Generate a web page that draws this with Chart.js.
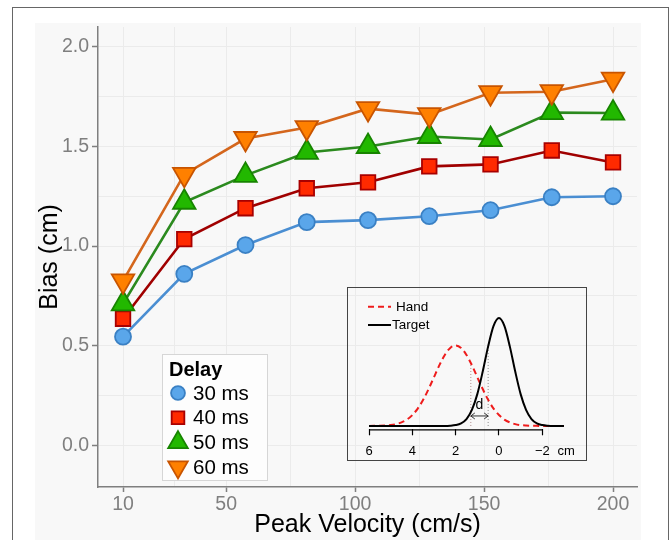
<!DOCTYPE html>
<html><head><meta charset="utf-8">
<script src="https://cdn.jsdelivr.net/npm/chart.js@4.4.1/dist/chart.umd.min.js"></script>
<style>
html,body{margin:0;padding:0;background:#fff;}
#wrap{position:relative;width:671px;height:540px;overflow:hidden;}
#main{position:absolute;left:0;top:0;}
#frame{position:absolute;left:12px;top:7px;width:657px;height:560px;border:1.5px solid #666;box-sizing:border-box;pointer-events:none;}
#insetBox{position:absolute;left:347px;top:287px;width:240px;height:174px;border:1px solid #444;box-sizing:border-box;}
#inset{position:absolute;left:0;top:0;}
</style></head>
<body>
<div id="wrap">
<canvas id="main" width="671" height="540"></canvas>
<div id="frame"></div>
<div id="insetBox"><canvas id="inset" width="238" height="172"></canvas></div>
</div>
<script>
// ---------- main chart data ----------
const velocities = [10, 33.75, 57.5, 81.25, 105, 128.75, 152.5, 176.25, 200];
const bias30 = [0.545, 0.86, 1.005, 1.12, 1.13, 1.15, 1.18, 1.245, 1.25];
const bias40 = [0.635, 1.035, 1.19, 1.29, 1.32, 1.40, 1.41, 1.48, 1.42];
const bias50 = [0.71, 1.22, 1.355, 1.47, 1.50, 1.55, 1.535, 1.67, 1.668];
const bias60 = [0.825, 1.36, 1.54, 1.595, 1.69, 1.66, 1.77, 1.775, 1.838];
const seriesLabels = ['30 ms', '40 ms', '50 ms', '60 ms'];
const legendTitle = 'Delay';
const xMajorTicks = [10, 50, 100, 150, 200];
const xMinorTicks = [30, 75, 125, 175];
const yMajorTicks = [0, 0.5, 1, 1.5, 2];
const yMinorTicks = [0.25, 0.75, 1.25, 1.75];
const yTickLabels = ['0.0', '0.5', '1.0', '1.5', '2.0'];
const xTitle = 'Peak Velocity (cm/s)';
const yTitle = 'Bias (cm)';

// ---------- inset data ----------
const insetX = [6,5.75,5.5,5.25,5,4.75,4.5,4.25,4,3.75,3.5,3.25,3,2.75,2.5,2.25,2,1.75,1.5,1.25,1,0.75,0.5,0.25,0,-0.25,-0.5,-0.75,-1,-1.25,-1.5,-1.75,-2,-2.25,-2.5,-2.75,-3];
const handY = [0,0.001,0.002,0.004,0.008,0.017,0.033,0.059,0.101,0.161,0.242,0.342,0.452,0.563,0.658,0.723,0.746,0.723,0.658,0.563,0.452,0.342,0.242,0.161,0.101,0.059,0.033,0.017,0.008,0.004,0.002,0.001,0,0,0,0,0];
const targetY = [0,0,0,0,0,0,0,0,0,0,0,0,0,0,0,0.002,0.008,0.024,0.064,0.149,0.295,0.504,0.737,0.927,1,0.927,0.737,0.504,0.295,0.149,0.064,0.024,0.008,0.002,0,0,0];
const insetLabels = ['Hand', 'Target'];
const insetTicks = [6, 4, 2, 0, -2];
const insetTickLabels = ['6', '4', '2', '0', '\u22122'];
const insetUnitTick = -3.1;
const insetUnitLabel = 'cm';
const dottedX = [1.3, 0.5];
const dottedTop = [0.584, 0.737];
const arrowY = 0.0926;
const dLabel = 'd';
const dLabelPos = [0.9, 0.19];

const FONT = '"Liberation Sans", Arial, Helvetica, sans-serif';
Chart.defaults.font.family = FONT;

const styles = [
  {fill:'#5aa6ea', border:'#3a80c4', line:'#4a8ed2', shape:'circle', r:8, rot:0},
  {fill:'#ff2a00', border:'#a80000', line:'#a00000', shape:'rect', r:10.3, rot:0},
  {fill:'#22b800', border:'#178400', line:'#2b8a1e', shape:'triangle', r:13, rot:0},
  {fill:'#ff8000', border:'#c85400', line:'#d4661c', shape:'triangle', r:13, rot:180}
];
const seriesValues = [bias30, bias40, bias50, bias60];

const lineSets = seriesValues.map((vals, i) => ({
  type:'line', label:'_line' + i,
  data: velocities.map((v, j) => ({x:v, y:vals[j]})),
  borderColor: styles[i].line, borderWidth: 2.6, pointRadius: 0, fill:false,
  order: 14 - i
}));
const pointSets = seriesValues.map((vals, i) => ({
  type:'line', label: seriesLabels[i], showLine:false,
  data: velocities.map((v, j) => ({x:v, y:vals[j]})),
  backgroundColor: styles[i].fill, borderColor: styles[i].border, borderWidth: 1.8,
  pointStyle: styles[i].shape, pointRadius: styles[i].r, pointRotation: styles[i].rot,
  order: 4 - i
}));

function drawMarker(ctx, st, x, y, scale) {
  ctx.save();
  ctx.fillStyle = st.fill; ctx.strokeStyle = st.border; ctx.lineWidth = 1.8;
  const r = st.r * scale;
  if (Chart.helpers && Chart.helpers.drawPoint) {
    Chart.helpers.drawPoint(ctx, {pointStyle: st.shape, rotation: st.rot, radius: r, borderWidth: 1.8}, x, y);
  } else {
    ctx.beginPath();
    if (st.shape === 'circle') ctx.arc(x, y, r, 0, Math.PI * 2);
    else if (st.shape === 'rect') { const s = r * Math.SQRT1_2; ctx.rect(x - s, y - s, 2 * s, 2 * s); }
    else { const d = st.rot ? -1 : 1; const w = r * Math.sqrt(3) / 2;
      ctx.moveTo(x, y - d * r); ctx.lineTo(x + w, y + d * r / 2); ctx.lineTo(x - w, y + d * r / 2); ctx.closePath(); }
    ctx.fill(); ctx.stroke();
  }
  ctx.restore();
}

const bgPlugin = {
  id:'bg',
  beforeDraw(chart) {
    const ctx = chart.ctx; ctx.save();
    ctx.fillStyle = '#f8f8f8'; ctx.fillRect(35, 23, 606, 517);
    ctx.restore();
  }
};
const legendPlugin = {
  id:'mainLegend',
  afterDraw(chart) {
    const ctx = chart.ctx; ctx.save();
    ctx.fillStyle = '#fdfdfd'; ctx.strokeStyle = '#d6d6d6'; ctx.lineWidth = 1;
    ctx.fillRect(162.5, 354.5, 105, 126); ctx.strokeRect(162.5, 354.5, 105, 126);
    ctx.fillStyle = '#000'; ctx.textAlign = 'left'; ctx.textBaseline = 'alphabetic';
    ctx.font = 'bold 20px ' + FONT;
    ctx.fillText(legendTitle, 169, 376);
    ctx.font = '20.5px ' + FONT; ctx.textBaseline = 'middle';
    pointSets.forEach((ds, i) => {
      const y = 393 + i * 24.7;
      drawMarker(ctx, styles[i], 178, y, 0.87);
      ctx.fillStyle = '#000';
      ctx.fillText(ds.label, 193, y + 1);
    });
    ctx.restore();
  }
};

new Chart(document.getElementById('main'), {
  type:'line',
  data:{datasets:[...lineSets, ...pointSets]},
  options:{
    responsive:false, animation:false, devicePixelRatio:1,
    layout:{padding:{left:0, right:34, top:27, bottom:0}},
    plugins:{legend:{display:false}, tooltip:{enabled:false}},
    elements:{line:{tension:0}},
    scales:{
      x:{
        type:'linear', min:0.3, max:209.3,
        afterBuildTicks: s => { s.ticks = [...xMajorTicks, ...xMinorTicks].sort((a,b)=>a-b).map(v => ({value:v})); },
        afterFit: s => { s.height = 53; },
        ticks:{autoSkip:false, maxRotation:0, color:'#7f7f7f', font:{size:19.5}, padding:1,
          callback: v => xMajorTicks.includes(v) ? String(v) : ''},
        grid:{color:'#ebebeb', lineWidth:1, tickLength:5,
          tickColor: c => (c.tick && xMajorTicks.includes(c.tick.value)) ? '#7f7f7f' : 'rgba(0,0,0,0)', tickWidth:1.5},
        border:{color:'#7f7f7f', width:1.5},
        title:{display:true, text:xTitle, color:'#000', font:{size:25, lineHeight:1.2}, padding:{top:0, bottom:0}}
      },
      y:{
        type:'linear', min:-0.21, max:2.1,
        afterBuildTicks: s => { s.ticks = [...yMajorTicks, ...yMinorTicks].sort((a,b)=>a-b).map(v => ({value:v})); },
        afterFit: s => { s.width = 98; },
        ticks:{autoSkip:false, color:'#7f7f7f', font:{size:19.5}, padding:3,
          callback: v => { const k = yMajorTicks.indexOf(v); return k >= 0 ? yTickLabels[k] : ''; }},
        grid:{color:'#ebebeb', lineWidth:1, tickLength:6,
          tickColor: c => (c.tick && yMajorTicks.includes(c.tick.value)) ? '#7f7f7f' : 'rgba(0,0,0,0)', tickWidth:1.5},
        border:{color:'#7f7f7f', width:1.5},
        title:{display:true, text:yTitle, color:'#000', font:{size:25, lineHeight:1.2}, padding:{top:35, bottom:0}}
      }
    }
  },
  plugins:[bgPlugin, legendPlugin]
});

// ---------- inset ----------
const insetPlugin = {
  id:'insetExtras',
  afterDraw(chart) {
    const ctx = chart.ctx, xs = chart.scales.x, ys = chart.scales.y, ca = chart.chartArea;
    ctx.save();
    // axis line from first to last numeric tick
    ctx.strokeStyle = '#000'; ctx.lineWidth = 1.2;
    ctx.beginPath();
    ctx.moveTo(xs.getPixelForValue(insetTicks[0]), ca.bottom + 0.5);
    ctx.lineTo(xs.getPixelForValue(insetTicks[insetTicks.length - 1]), ca.bottom + 0.5);
    ctx.stroke();
    // arrow heads
    const ay = ys.getPixelForValue(arrowY);
    const a1 = xs.getPixelForValue(dottedX[0]), a2 = xs.getPixelForValue(dottedX[1]);
    ctx.strokeStyle = '#333'; ctx.lineWidth = 1;
    ctx.beginPath();
    ctx.moveTo(a1 + 4, ay - 3); ctx.lineTo(a1, ay); ctx.lineTo(a1 + 4, ay + 3);
    ctx.moveTo(a2 - 4, ay - 3); ctx.lineTo(a2, ay); ctx.lineTo(a2 - 4, ay + 3);
    ctx.stroke();
    // d label
    ctx.fillStyle = '#000'; ctx.font = '14px ' + FONT; ctx.textAlign = 'center'; ctx.textBaseline = 'middle';
    ctx.fillText(dLabel, xs.getPixelForValue(dLabelPos[0]), ys.getPixelForValue(dLabelPos[1]));
    // legend
    ctx.textAlign = 'left'; ctx.font = '13.5px ' + FONT;
    const ly = [18.7, 37], lx = [48, 44];
    [0, 1].forEach(i => {
      const ds = chart.data.datasets[i];
      ctx.strokeStyle = ds.borderColor; ctx.lineWidth = 2;
      ctx.setLineDash(ds.borderDash || []);
      ctx.beginPath(); ctx.moveTo(20, ly[i]); ctx.lineTo(43, ly[i]); ctx.stroke();
      ctx.setLineDash([]);
      ctx.fillStyle = '#000';
      ctx.fillText(ds.label, lx[i], ly[i] + 0.5);
    });
    ctx.restore();
  }
};

new Chart(document.getElementById('inset'), {
  type:'line',
  data:{datasets:[
    {label:insetLabels[0], data: insetX.map((x, i) => ({x, y:handY[i]})), borderColor:'#ee1c1c', borderWidth:2,
      borderDash:[6,4], pointRadius:0, cubicInterpolationMode:'monotone', order:1},
    {label:insetLabels[1], data: insetX.map((x, i) => ({x, y:targetY[i]})), borderColor:'#000', borderWidth:2,
      pointRadius:0, cubicInterpolationMode:'monotone', order:0},
    {label:'_dot0', data:[{x:dottedX[0], y:0}, {x:dottedX[0], y:dottedTop[0]}], borderColor:'#b08a8a', borderWidth:1,
      borderDash:[1,2], pointRadius:0, order:3},
    {label:'_dot1', data:[{x:dottedX[1], y:0}, {x:dottedX[1], y:dottedTop[1]}], borderColor:'#888', borderWidth:1,
      borderDash:[1,2], pointRadius:0, order:3},
    {label:'_arrow', data:[{x:dottedX[0], y:arrowY}, {x:dottedX[1], y:arrowY}], borderColor:'#333', borderWidth:1,
      pointRadius:0, order:2}
  ]},
  options:{
    responsive:false, animation:false, devicePixelRatio:1,
    layout:{padding:{left:21, right:17.7, top:20, bottom:0}},
    plugins:{legend:{display:false}, tooltip:{enabled:false}},
    scales:{
      x:{type:'linear', reverse:true, min:-3.2, max:6,
        afterBuildTicks: s => { s.ticks = [...insetTicks, insetUnitTick].map(v => ({value:v})); },
        afterFit: s => { s.height = 30.7; },
        ticks:{autoSkip:false, maxRotation:0, color:'#000', font:{size:13}, padding:8,
          callback: v => { const k = insetTicks.indexOf(v); return k >= 0 ? insetTickLabels[k] : (v === insetUnitTick ? insetUnitLabel : ''); }},
        grid:{drawOnChartArea:false, drawTicks:true, tickLength:6, tickWidth:1.2,
          tickColor: c => (c.tick && insetTicks.includes(c.tick.value)) ? '#000' : 'rgba(0,0,0,0)'},
        border:{display:false}
      },
      y:{display:false, min:-0.031, max:1.0926}
    }
  },
  plugins:[insetPlugin]
});
</script>
</body></html>
